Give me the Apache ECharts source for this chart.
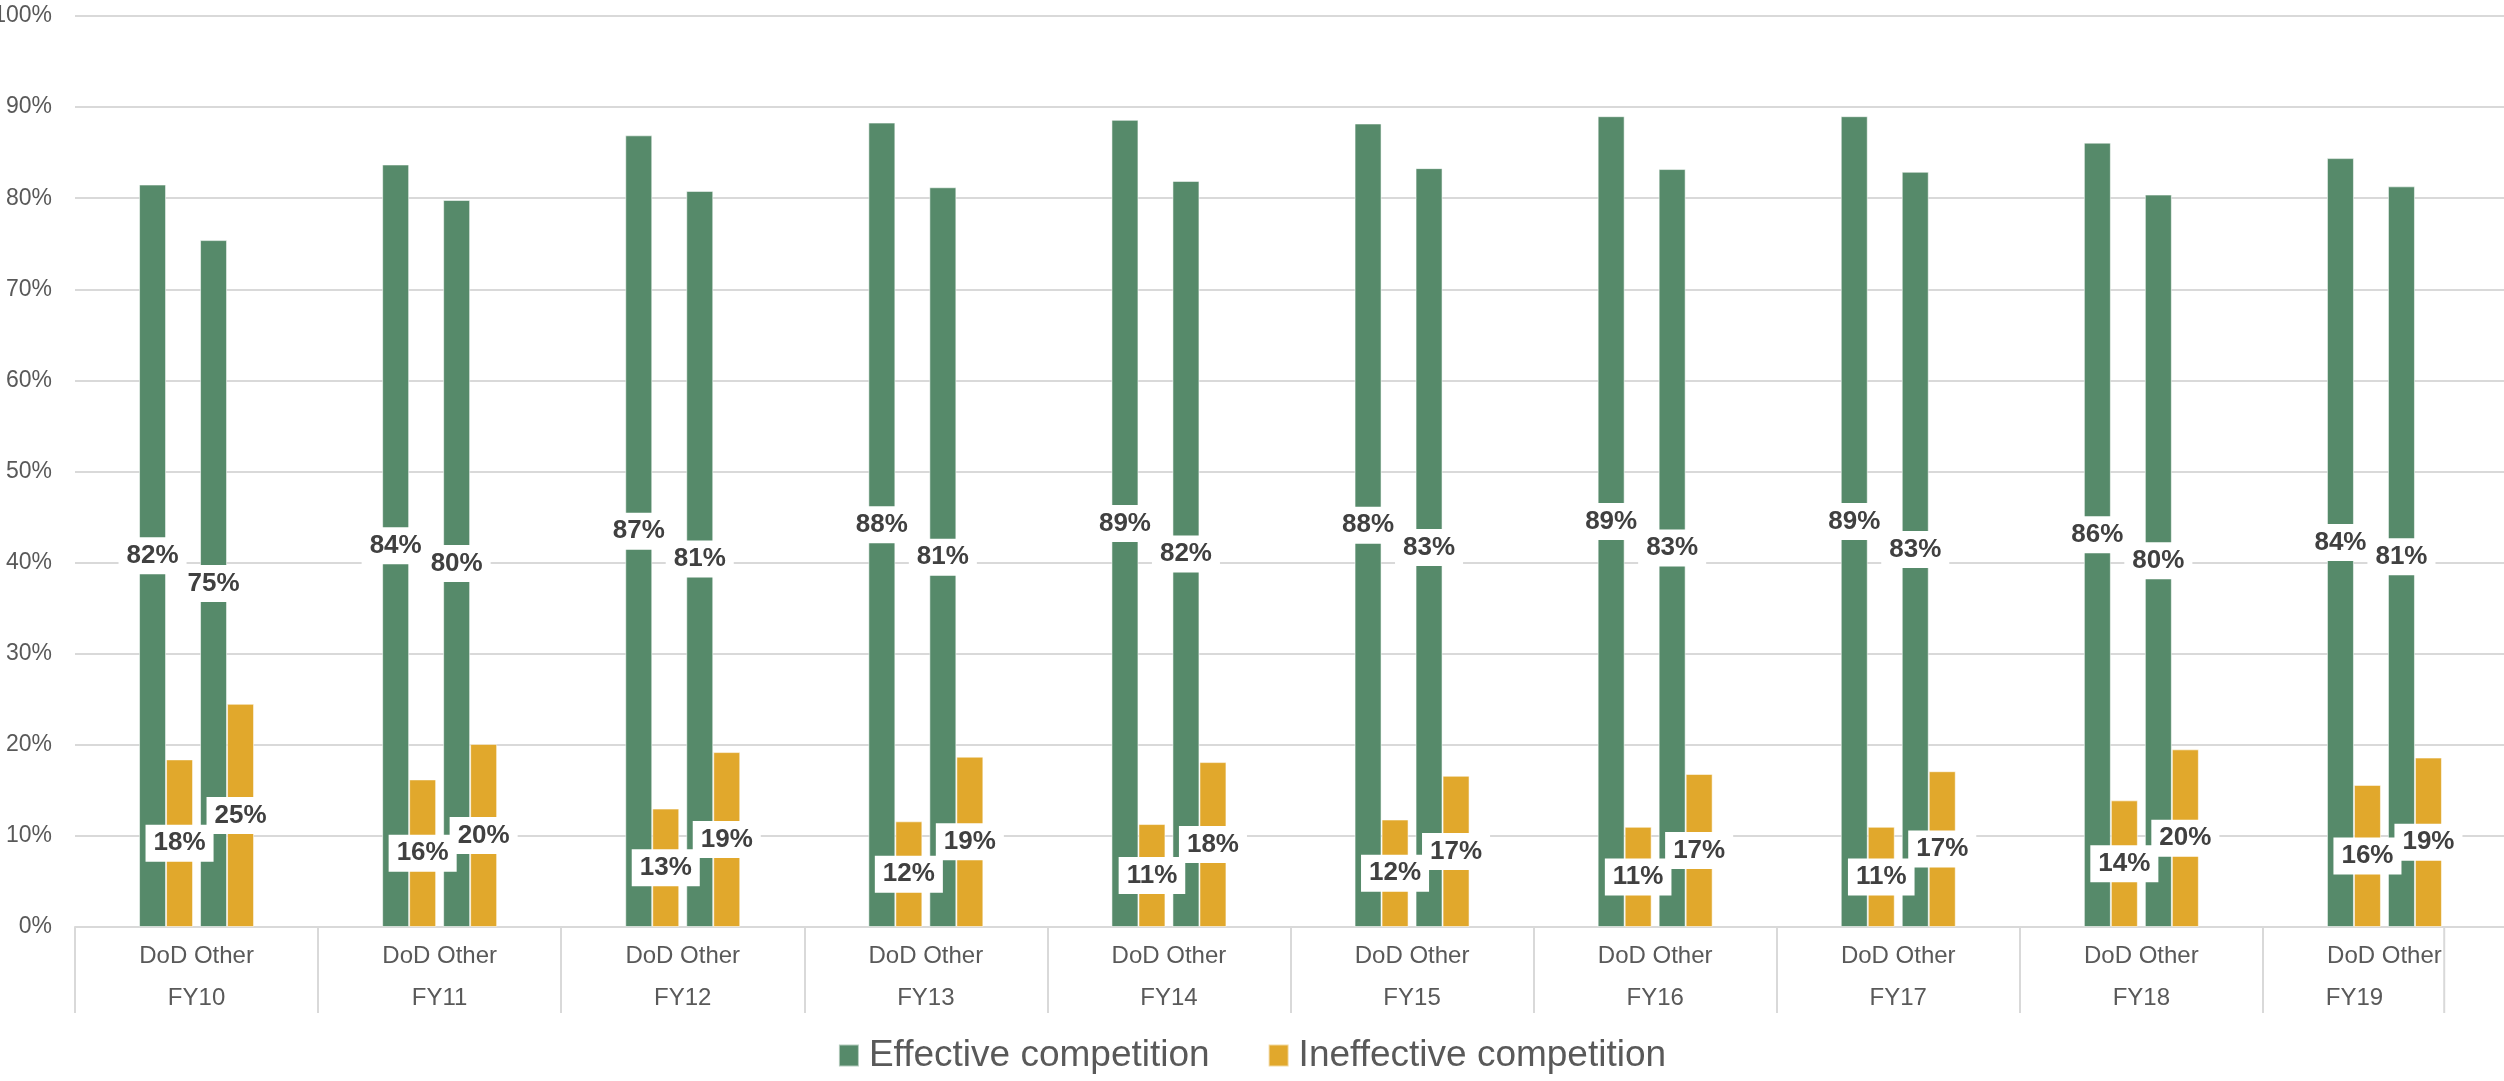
<!DOCTYPE html>
<html>
<head>
<meta charset="utf-8">
<script src="https://cdn.jsdelivr.net/npm/echarts@6/dist/echarts.min.js"></script>
<style>
  html, body { margin: 0; padding: 0; background: #fff; }
  #chart { width: 2504px; height: 1081px; }
</style>
</head>
<body>
<div id="chart"></div>
<script>
// ---- data ----
const years = ['FY10', 'FY11', 'FY12', 'FY13', 'FY14', 'FY15', 'FY16', 'FY17', 'FY18', 'FY19'];
const subLabels = ['DoD', 'Other'];
const yTicks = [0, 10, 20, 30, 40, 50, 60, 70, 80, 90, 100];
const dodEffective   = [81.5, 83.7, 86.9, 88.3, 88.6, 88.2, 89.0, 89.0, 86.1, 84.4];
const dodIneffective = [18.4, 16.2, 13.0, 11.6, 11.3, 11.8, 11.0, 11.0, 13.9, 15.6];
const otherEffective   = [75.4, 79.8, 80.8, 81.2, 81.9, 83.3, 83.2, 82.9, 80.4, 81.3];
const otherIneffective = [24.5, 20.1, 19.2, 18.7, 18.1, 16.6, 16.8, 17.1, 19.5, 18.6];
const seriesNames = ['Effective competition', 'Ineffective competition'];

const GREEN = '#568A6A';
const ORANGE = '#E1A82C';
const FONT = 'Liberation Sans, Arial, sans-serif';

const chart = echarts.init(document.getElementById('chart'));

const labelStyle = {
  show: true,
  position: 'inside',
  formatter: p => Math.round(p.value) + '%',
  backgroundColor: '#ffffff',
  padding: [6, 8, 5, 8],
  color: '#404040',
  fontSize: 26,
  fontWeight: 'bold',
  fontFamily: FONT
};

function barSeries(name, data, color) {
  return {
    name: name,
    type: 'bar',
    data: data,
    barWidth: 27,
    barGap: '0%',
    itemStyle: { color: color, borderColor: 'rgba(255,255,255,0.55)', borderWidth: 1 },
    label: labelStyle,
    emphasis: { disabled: true },
    z: 2
  };
}

const option = {
  animation: false,
  textStyle: { fontFamily: FONT },
  grid: { left: 75, right: -2, top: 16, bottom: 154, containLabel: false, outerBoundsMode: 'none' },
  legend: {
    data: seriesNames,
    top: 1032,
    left: 'center',
    icon: 'rect',
    itemWidth: 20,
    itemHeight: 22,
    itemGap: 58,
    textStyle: { fontSize: 37, color: '#595959', fontFamily: FONT, padding: [0, 0, 0, 5] }
  },
  xAxis: {
    type: 'category',
    data: years,
    axisLine: { show: true, lineStyle: { color: '#d9d9d9', width: 2 } },
    axisTick: { show: true, interval: 0, length: 86, lineStyle: { color: '#d9d9d9', width: 2 } },
    axisLabel: {
      interval: 0,
      margin: 8,
      formatter: (v, i) => '{a|' + subLabels.join(' ') + '}\n' + (i === years.length - 1 ? '{c|' + v + '}' : '{b|' + v + '}'),
      rich: {
        a: { fontSize: 24, color: '#595959', lineHeight: 42, fontFamily: FONT },
        b: { fontSize: 24, color: '#595959', lineHeight: 42, fontFamily: FONT },
        c: { fontSize: 24, color: '#595959', lineHeight: 42, fontFamily: FONT, padding: [0, 60, 0, 0] }
      }
    }
  },
  yAxis: {
    type: 'value',
    min: 0,
    max: 100,
    interval: 10,
    axisLine: { show: false },
    axisTick: { show: false },
    axisLabel: { formatter: '{value}%', fontSize: 23, color: '#595959', margin: 23, fontFamily: FONT },
    splitLine: { lineStyle: { color: '#d9d9d9', width: 2 } }
  },
  series: [
    barSeries(seriesNames[0], dodEffective, GREEN),
    barSeries(seriesNames[1], dodIneffective, ORANGE),
    { name: '', type: 'bar', data: years.map(() => '-'), barWidth: 7, barGap: '0%', silent: true },
    barSeries(seriesNames[0], otherEffective, GREEN),
    barSeries(seriesNames[1], otherIneffective, ORANGE)
  ]
};

chart.setOption(option);

// The last category box in the reference is closed early (quirk of the source chart).
const lastCenter = chart.convertToPixel({ xAxisIndex: 0 }, years[years.length - 1]);
const prevCenter = chart.convertToPixel({ xAxisIndex: 0 }, years[years.length - 2]);
const band = lastCenter - prevCenter;
const y0 = chart.convertToPixel({ yAxisIndex: 0 }, yTicks[0]);
chart.setOption({
  graphic: [{
    type: 'line',
    shape: { x1: lastCenter + band / 4 - 1, y1: y0, x2: lastCenter + band / 4 - 1, y2: y0 + 86 },
    style: { stroke: '#d9d9d9', lineWidth: 2 },
    silent: true
  }]
});
</script>
</body>
</html>
